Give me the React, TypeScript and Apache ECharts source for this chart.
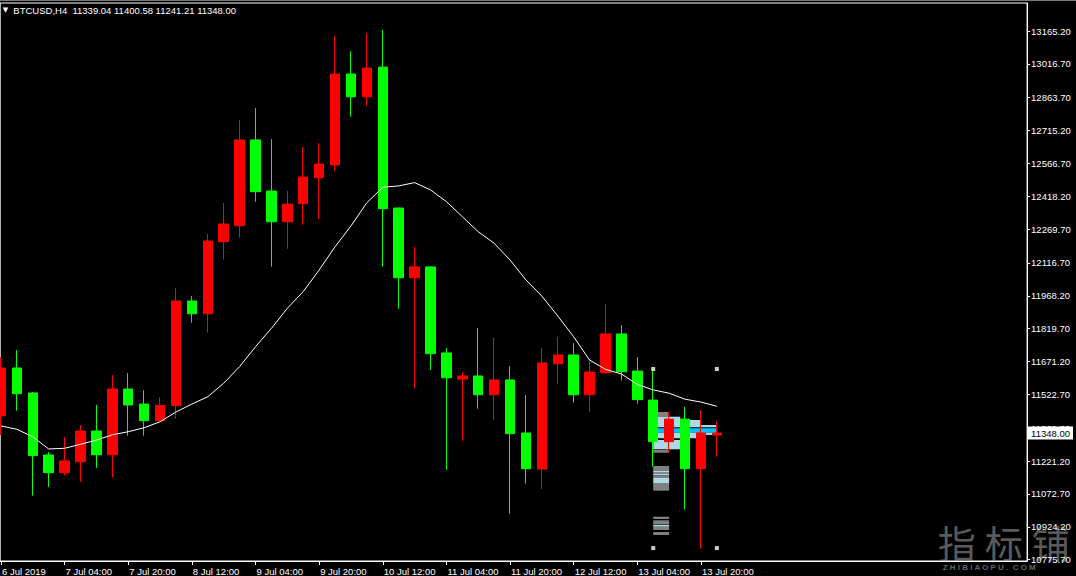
import React, { useEffect, useRef } from "react";
import * as echarts from "echarts";

const symbol = "BTCUSD";
const timeframe = "H4";

// H4 bar times (MT4 server time)
const times = [
  "2019.07.06 12:00", "2019.07.06 16:00", "2019.07.06 20:00",
  "2019.07.07 00:00", "2019.07.07 04:00", "2019.07.07 08:00", "2019.07.07 12:00", "2019.07.07 16:00", "2019.07.07 20:00",
  "2019.07.08 00:00", "2019.07.08 04:00", "2019.07.08 08:00", "2019.07.08 12:00", "2019.07.08 16:00", "2019.07.08 20:00",
  "2019.07.09 00:00", "2019.07.09 04:00", "2019.07.09 08:00", "2019.07.09 12:00", "2019.07.09 16:00", "2019.07.09 20:00",
  "2019.07.10 00:00", "2019.07.10 04:00", "2019.07.10 08:00", "2019.07.10 12:00", "2019.07.10 16:00", "2019.07.10 20:00",
  "2019.07.11 00:00", "2019.07.11 04:00", "2019.07.11 08:00", "2019.07.11 12:00", "2019.07.11 16:00", "2019.07.11 20:00",
  "2019.07.12 00:00", "2019.07.12 04:00", "2019.07.12 08:00", "2019.07.12 12:00", "2019.07.12 16:00", "2019.07.12 20:00",
  "2019.07.13 00:00", "2019.07.13 04:00", "2019.07.13 08:00", "2019.07.13 12:00", "2019.07.13 16:00", "2019.07.13 20:00",
  "2019.07.14 00:00",
];

// one label every 4 bars
const timeTickLabels = [
  "6 Jul 2019", "7 Jul 04:00", "7 Jul 20:00", "8 Jul 12:00", "9 Jul 04:00", "9 Jul 20:00",
  "10 Jul 12:00", "11 Jul 04:00", "11 Jul 20:00", "12 Jul 12:00", "13 Jul 04:00", "13 Jul 20:00",
];

const opens = [
  11426, 11642, 11529, 11249, 11169, 11218, 11357, 11250, 11547, 11479,
  11404, 11472, 11945, 11887, 12213, 12285, 12673, 12442, 12303, 12385,
  12502, 12560, 12971, 12868, 13002, 12365, 12050, 12099, 11710, 11592,
  11606, 11521, 11588, 11348, 11185, 11661, 11701, 11521, 11621, 11796,
  11628, 11497, 11309, 11411, 11187, 11339.04,
];
const highs = [
  11690, 11723, 11534, 11262, 11330, 11384, 11475, 11610, 11619, 11542,
  11511, 12004, 11967, 12248, 12388, 12763, 12817, 12677, 12442, 12641,
  12659, 13143, 13073, 13156, 13170, 12368, 12189, 12101, 11732, 11624,
  11823, 11778, 11651, 11520, 11732, 11782, 11755, 11680, 11931, 11836,
  11692, 11637, 11443, 11466, 11452, 11400.58,
];
const lows = [
  11339, 11449, 11065, 11105, 11155, 11128, 11191, 11146, 11336, 11336,
  11400, 11413, 11847, 11802, 12132, 12231, 12394, 12100, 12181, 12290,
  12315, 12532, 12778, 12828, 12100, 11910, 11552, 11634, 11182, 11313,
  11458, 11408, 10983, 11119, 11095, 11571, 11485, 11444, 11615, 11585,
  11481, 11196, 11259, 11002, 10825, 11241.21,
];
const closes = [
  11642, 11526, 11246, 11169, 11222, 11357, 11250, 11547, 11475, 11404,
  11473, 11945, 11887, 12216, 12293, 12673, 12439, 12303, 12383, 12505,
  12564, 12971, 12868, 12998, 12362, 12050, 12099, 11707, 11598, 11606,
  11521, 11588, 11345, 11187, 11665, 11701, 11521, 11624, 11796, 11625,
  11499, 11309, 11411, 11187, 11348, 11348.0,
];

// white moving average
const maValues = [
  11380, 11365, 11331, 11276, 11279, 11297, 11316, 11340, 11354, 11372,
  11399, 11443, 11479, 11512, 11573, 11648, 11738, 11821, 11912, 11987,
  12085, 12190, 12284, 12389, 12459, 12465, 12480, 12447, 12394, 12326,
  12258, 12206, 12130, 12040, 11967, 11877, 11783, 11678, 11636, 11615,
  11568, 11543, 11528, 11501, 11488, 11469,
];

// y axis
const yMin = 10769.6;
const yMax = 13291.8;
const priceTicks = [
  10775.7, 10924.2, 11072.7, 11221.2, 11369.7, 11522.7, 11671.2, 11819.7, 11968.2,
  12116.7, 12269.7, 12418.2, 12566.7, 12715.2, 12863.7, 13016.7, 13165.2,
];

// market profile drawn from bar 41: rows of [priceTop, priceBottom, lengthInBars, kind]
const profileStartBar = 41;
const profileTop = [
  11443.1, 11421.8, 11406.9, 11384.3, 11369.4, 11349.5, 11339.1, 11316.5, 11271.3,
  11199.0, 11177.8, 11168.7, 11162.8, 11157.0, 11144.8, 11122.2,
  10969.8, 10953.6, 10933.7, 10923.3, 10900.7,
];
const profileBottom = [
  11421.8, 11406.9, 11384.3, 11373.9, 11349.5, 11339.1, 11324.2, 11274.5, 11259.1,
  11177.8, 11168.7, 11162.8, 11157.0, 11144.8, 11122.2, 11087.4,
  10959.4, 10936.8, 10924.6, 10909.7, 10887.1,
];
const profileLength = [
  1, 1.7, 3, 4, 4, 4, 2.7, 1.7, 1,
  1, 1, 1, 1, 1, 1, 1,
  1, 1, 1, 1, 1,
];
// 0 grey, 1 light blue, 2 deep sky blue
const profileKind = [
  0, 1, 1, 1, 2, 1, 1, 1, 0,
  0, 1, 0, 1, 0, 1, 0,
  0, 0, 1, 0, 0,
];
const profileColors = ["#808080", "#ADD8E6", "#00BFFF"];

// range box corner markers
const rangeBars = [41, 45];
const rangeHigh = 11637.4;
const rangeLow = 10828;

const FONT = '"Liberation Sans", Arial, sans-serif';
// chart canvas starts left of the page so the first bar is cut like in MT4
const SHIFT = 6.7;

export default function App() {
  const ref = useRef<HTMLDivElement>(null);

  useEffect(() => {
    if (!ref.current) return;
    const chart = echarts.init(ref.current, undefined, { renderer: "svg" });

    const padCount = 19;
    const categories = times.concat(
      Array.from({ length: padCount }, (_, i) => `pad-${i}`)
    );
    const candleData = opens.map((o, i) => [o, closes[i], lows[i], highs[i]]);
    const profileData = profileTop.map((t, i) => [
      profileStartBar, t, profileBottom[i], profileLength[i], profileKind[i],
    ]);
    const markers = [
      [rangeBars[0], rangeHigh], [rangeBars[1], rangeHigh],
      [rangeBars[0], rangeLow], [rangeBars[1], rangeLow],
    ];
    const last = opens.length - 1;
    const f2 = (v: number) => v.toFixed(2);
    const showIdx = (i: number) => i % 4 === 0 && i < times.length;

    chart.setOption({
      animation: false,
      backgroundColor: "#000000",
      title: {
        left: 3 + SHIFT,
        top: 5,
        padding: 0,
        text:
          "{t|▼}\u00a0\u00a0" +
          `${symbol},${timeframe}\u00a0\u00a0${f2(opens[last])} ${f2(highs[last])} ${f2(lows[last])} ${f2(closes[last])}`,
        textStyle: {
          color: "#ffffff",
          fontFamily: FONT,
          fontSize: 9.5,
          fontWeight: "normal",
          rich: { t: { fontSize: 7, color: "#ffffff", fontFamily: "DejaVu Sans" } },
        },
      },
      grid: {
        left: 0,
        right: 45,
        top: 3,
        bottom: 15,
        show: true,
        borderColor: "#ffffff",
        borderWidth: 1,
        backgroundColor: "#000000",
      },
      xAxis: {
        type: "category",
        data: categories,
        boundaryGap: true,
        axisLine: { show: true, lineStyle: { color: "#ffffff", width: 1 } },
        axisTick: {
          show: true,
          alignWithLabel: true,
          length: 4,
          interval: (i: number) => showIdx(i),
          lineStyle: { color: "#ffffff" },
        },
        axisLabel: {
          interval: (i: number) => showIdx(i),
          formatter: (_v: string, i: number) => (showIdx(i) ? timeTickLabels[i / 4] : ""),
          align: "left",
          padding: [0, 0, 0, 1],
          margin: 5,
          color: "#ffffff",
          fontFamily: FONT,
          fontSize: 9.5,
        },
        splitLine: { show: false },
      },
      yAxis: [
        {
          type: "value",
          position: "right",
          min: yMin,
          max: yMax,
          splitLine: { show: false },
          axisLine: { show: true, lineStyle: { color: "#ffffff", width: 1 } },
          axisTick: {
            show: true,
            inside: false,
            length: 3,
            customValues: priceTicks,
            lineStyle: { color: "#ffffff" },
          },
          axisLabel: {
            customValues: priceTicks,
            formatter: (v: number) => v.toFixed(2),
            color: "#ffffff",
            fontFamily: FONT,
            fontSize: 9.5,
            margin: 4,
          },
        },
        {
          type: "value",
          position: "right",
          min: yMin,
          max: yMax,
          z: 10,
          splitLine: { show: false },
          axisLine: { show: false },
          axisTick: { show: false },
          axisLabel: {
            customValues: [closes[last]],
            formatter: (v: number) => v.toFixed(2),
            color: "#000000",
            backgroundColor: "#ffffff",
            padding: [2, 3, 1, 4],
            margin: 0,
            fontFamily: FONT,
            fontSize: 9.5,
          },
        },
      ],
      series: [
        {
          type: "custom",
          name: "profile",
          z: 1,
          silent: true,
          data: profileData,
          encode: { x: 0, y: [1, 2] },
          renderItem: (_params: any, api: any) => {
            const p0 = api.coord([api.value(0), api.value(1)]);
            const y1 = api.coord([api.value(0), api.value(2)])[1];
            const bw = api.size([1, 0])[0];
            return {
              type: "rect",
              shape: {
                x: p0[0],
                y: p0[1],
                width: api.value(3) * bw,
                height: Math.max(1, y1 - p0[1]),
              },
              style: { fill: profileColors[api.value(4)] },
            };
          },
        },
        {
          type: "candlestick",
          name: symbol,
          z: 3,
          silent: true,
          barWidth: 10,
          data: candleData,
          itemStyle: {
            color: "#ff0000",
            color0: "#00ff00",
            borderColor: "#ff0000",
            borderColor0: "#00ff00",
            borderWidth: 1,
          },
        },
        {
          type: "line",
          name: "MA",
          z: 4,
          silent: true,
          data: maValues,
          symbol: "none",
          lineStyle: { color: "#ffffff", width: 1 },
        },
        {
          type: "scatter",
          name: "range",
          z: 5,
          silent: true,
          symbol: "rect",
          symbolSize: 4,
          data: markers,
          itemStyle: { color: "#ffffff" },
        },
      ],
      graphic: [
        { type: "rect", left: 0, top: 0, shape: { width: 1090, height: 1 }, style: { fill: "#7a7a7a" }, silent: true },
        { type: "line", shape: { x1: SHIFT + 0.5, y1: 3, x2: SHIFT + 0.5, y2: 561 }, style: { stroke: "#ffffff", lineWidth: 1 }, silent: true },
        { type: "text", left: SHIFT + 938, top: 522, style: { text: "指", fill: "rgba(170,170,170,0.55)", font: '38px "Noto Sans CJK SC"' }, silent: true },
        { type: "text", left: SHIFT + 985, top: 522, style: { text: "标", fill: "rgba(170,170,170,0.55)", font: '38px "Noto Sans CJK SC"' }, silent: true },
        { type: "text", left: SHIFT + 1032, top: 522, style: { text: "铺", fill: "rgba(170,170,170,0.55)", font: '38px "Noto Sans CJK SC"' }, silent: true },
        { type: "text", left: SHIFT + 943, top: 563, style: { text: "Z H I B I A O P U .  C O M", fill: "rgba(170,170,170,0.6)", font: 'bold 8px "Liberation Sans"' }, silent: true },
      ],
    });

    return () => chart.dispose();
  }, []);

  return (
    <div
      ref={ref}
      style={{
        position: "absolute",
        left: -SHIFT,
        top: 0,
        width: 1076 + SHIFT,
        height: 576,
        background: "#000",
      }}
    />
  );
}
